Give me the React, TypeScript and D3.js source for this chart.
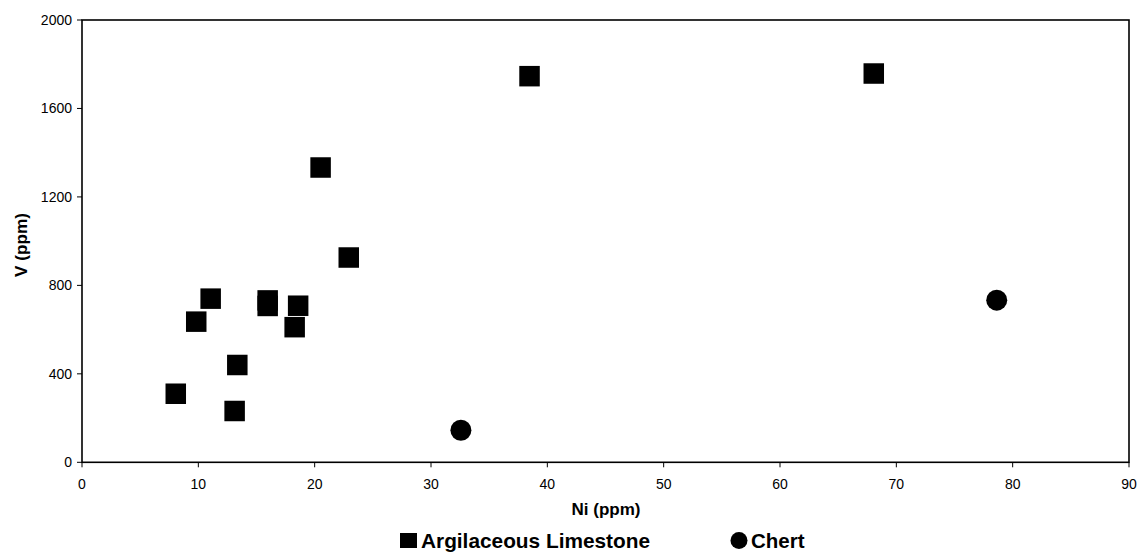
import React from "react";
import * as d3 from "d3";

const limestoneNi = [8.06, 9.82, 11.06, 13.12, 13.35, 15.96, 15.96, 18.28, 18.58, 20.51, 22.93, 38.47, 68.06];
const limestoneV = [310, 636, 740, 232, 440, 732, 707, 611, 708, 1333, 926, 1746, 1758];
const chertNi = [32.57, 78.63];
const chertV = [145, 733];
const xTicks = [0, 10, 20, 30, 40, 50, 60, 70, 80, 90];
const yTicks = [0, 400, 800, 1200, 1600, 2000];

const W = 1139;
const H = 560;
const M = { left: 82, right: 1129, top: 20, bottom: 462.3 };

export default function App() {
  const x = d3.scaleLinear().domain([0, 90]).range([M.left, M.right]);
  const y = d3.scaleLinear().domain([0, 2000]).range([M.bottom, M.top]);
  const font = "Arial, 'Liberation Sans', sans-serif";
  const sq = 20.5;
  return (
    <svg width={W} height={H} style={{ position: "absolute", left: 0, top: 0 }} fontFamily={font}>
      <rect x={0} y={0} width={W} height={H} fill="#fff" />
      <rect x={M.left} y={M.top} width={M.right - M.left} height={M.bottom - M.top} fill="none" stroke="#000" strokeWidth={1.6} />
      {yTicks.map((t) => (
        <g key={"y" + t}>
          <line x1={M.left - 5} x2={M.left} y1={y(t)} y2={y(t)} stroke="#000" strokeWidth={1} />
          <text x={72} y={y(t)} dy="0.35em" textAnchor="end" fontSize={14} fill="#000">{t}</text>
        </g>
      ))}
      {xTicks.map((t) => (
        <g key={"x" + t}>
          <line x1={x(t)} x2={x(t)} y1={M.bottom} y2={M.bottom + 5} stroke="#000" strokeWidth={1} />
          <text x={x(t)} y={488.5} textAnchor="middle" fontSize={14} fill="#000">{t}</text>
        </g>
      ))}
      <text x={606} y={515} textAnchor="middle" fontSize={16} fontWeight="bold" textLength={69} lengthAdjust="spacingAndGlyphs">Ni (ppm)</text>
      <text transform={`translate(27,245) rotate(-90)`} textAnchor="middle" fontSize={16} fontWeight="bold" textLength={64} lengthAdjust="spacingAndGlyphs">V (ppm)</text>
      {limestoneNi.map((n, i) => (
        <rect key={"l" + i} x={x(n) - sq / 2} y={y(limestoneV[i]) - sq / 2} width={sq} height={sq} fill="#000" />
      ))}
      {chertNi.map((n, i) => (
        <circle key={"c" + i} cx={x(n)} cy={y(chertV[i])} r={10.5} fill="#000" />
      ))}
      <rect x={400} y={533} width={17} height={15} fill="#000" />
      <text x={421} y={548} fontSize={20.5} fontWeight="bold" textLength={229} lengthAdjust="spacingAndGlyphs">Argilaceous Limestone</text>
      <circle cx={739} cy={540.5} r={8.5} fill="#000" />
      <text x={751} y={548} fontSize={20.5} fontWeight="bold">Chert</text>
    </svg>
  );
}
